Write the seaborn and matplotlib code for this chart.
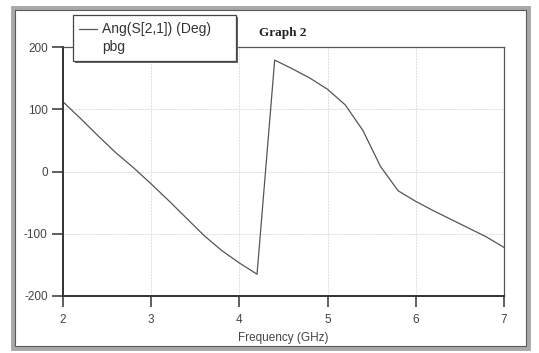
import numpy as np
import pandas as pd
import matplotlib
matplotlib.use("Agg")
import matplotlib.pyplot as plt
import seaborn as sns
from matplotlib.patches import Rectangle
from matplotlib.lines import Line2D

# values
freq_ghz = [2.0, 2.2, 2.4, 2.6, 2.8, 3.0, 3.2, 3.4, 3.6, 3.8, 4.0, 4.2,
            4.4, 4.6, 4.8, 5.0, 5.2, 5.4, 5.6, 5.8, 6.0, 6.2, 6.4, 6.6, 6.8, 7.0]
ang_s21_deg = [112, 85, 57, 30, 6, -20, -47, -75, -103, -127, -147, -165,
               179, 165, 150, 132, 107, 66, 8, -31, -48, -63, -77, -91, -105, -122]
x_ticks = [2, 3, 4, 5, 6, 7]
y_ticks = [-200, -100, 0, 100, 200]

df = pd.DataFrame({"Frequency (GHz)": freq_ghz, "Ang": ang_s21_deg})

sns.set_theme(style="white")
plt.rcParams["font.family"] = ["Liberation Sans", "DejaVu Sans"]
plt.rcParams["axes.unicode_minus"] = False

fig = plt.figure(figsize=(5.39, 3.53), dpi=100)
fig.patch.set_facecolor("white")

# grey bevelled panel frame
fig.add_artist(Rectangle((13 / 539, 1 - 348 / 353), 515 / 539, 340 / 353,
                         transform=fig.transFigure, facecolor="white",
                         edgecolor="#a8a8a8", linewidth=3.5, zorder=0))
fig.add_artist(Rectangle((15 / 539, 1 - 346 / 353), 511 / 539, 336 / 353,
                         transform=fig.transFigure, facecolor="none",
                         edgecolor="#5a5a5a", linewidth=0.8, zorder=0))

ax = fig.add_axes([63 / 539, 1 - 296 / 353, 441 / 539, 249 / 353])
sns.lineplot(data=df, x="Frequency (GHz)", y="Ang", ax=ax,
             color="#555555", linewidth=0.9)

ax.set_xlim(2, 7)
ax.set_ylim(-200, 200)
ax.set_xticks(x_ticks)
ax.set_yticks(y_ticks)
ax.grid(True, color="#dddddd", linewidth=0.7, linestyle=(0, (2, 1)))
ax.set_axisbelow(True)
ax.tick_params(axis="both", direction="out", length=8, width=1.1,
               color="#333333", labelsize=8.5, labelcolor="#444444", pad=3,
               bottom=True, left=True, top=False, right=False)
ax.tick_params(axis="x", pad=5)
for side in ["left", "bottom"]:
    ax.spines[side].set_color("#333333")
    ax.spines[side].set_linewidth(1.4)
for side in ["top", "right"]:
    ax.spines[side].set_color("#555555")
    ax.spines[side].set_linewidth(0.9)
ax.set_xlabel("Frequency (GHz)", fontsize=8.5, color="#444444", labelpad=4)
ax.set_ylabel("")

# title
fig.text(283 / 539, 1 - 33 / 353, "Graph 2", fontsize=9.5, fontweight="bold",
         family="Liberation Serif", color="#222222", ha="center", va="center")

# legend box with shadow
fig.add_artist(Rectangle((75 / 539, 1 - 63 / 353), 163 / 539, 46 / 353,
                         transform=fig.transFigure, facecolor="#666666",
                         edgecolor="none", zorder=5))
fig.add_artist(Rectangle((73 / 539, 1 - 61 / 353), 163 / 539, 46 / 353,
                         transform=fig.transFigure, facecolor="white",
                         edgecolor="#444444", linewidth=0.9, zorder=6))
fig.add_artist(Line2D([79 / 539, 97 / 539], [1 - 29 / 353, 1 - 29 / 353],
                      transform=fig.transFigure, color="#555555",
                      linewidth=0.9, zorder=7))
fig.text(102 / 539, 1 - 29 / 353, "Ang(S[2,1]) (Deg)", fontsize=10,
         color="#333333", va="center", zorder=7)
fig.text(102 / 539, 1 - 47 / 353, "pbg", fontsize=10,
         color="#333333", va="center", zorder=7)

fig.savefig("out.png", dpi=100)
